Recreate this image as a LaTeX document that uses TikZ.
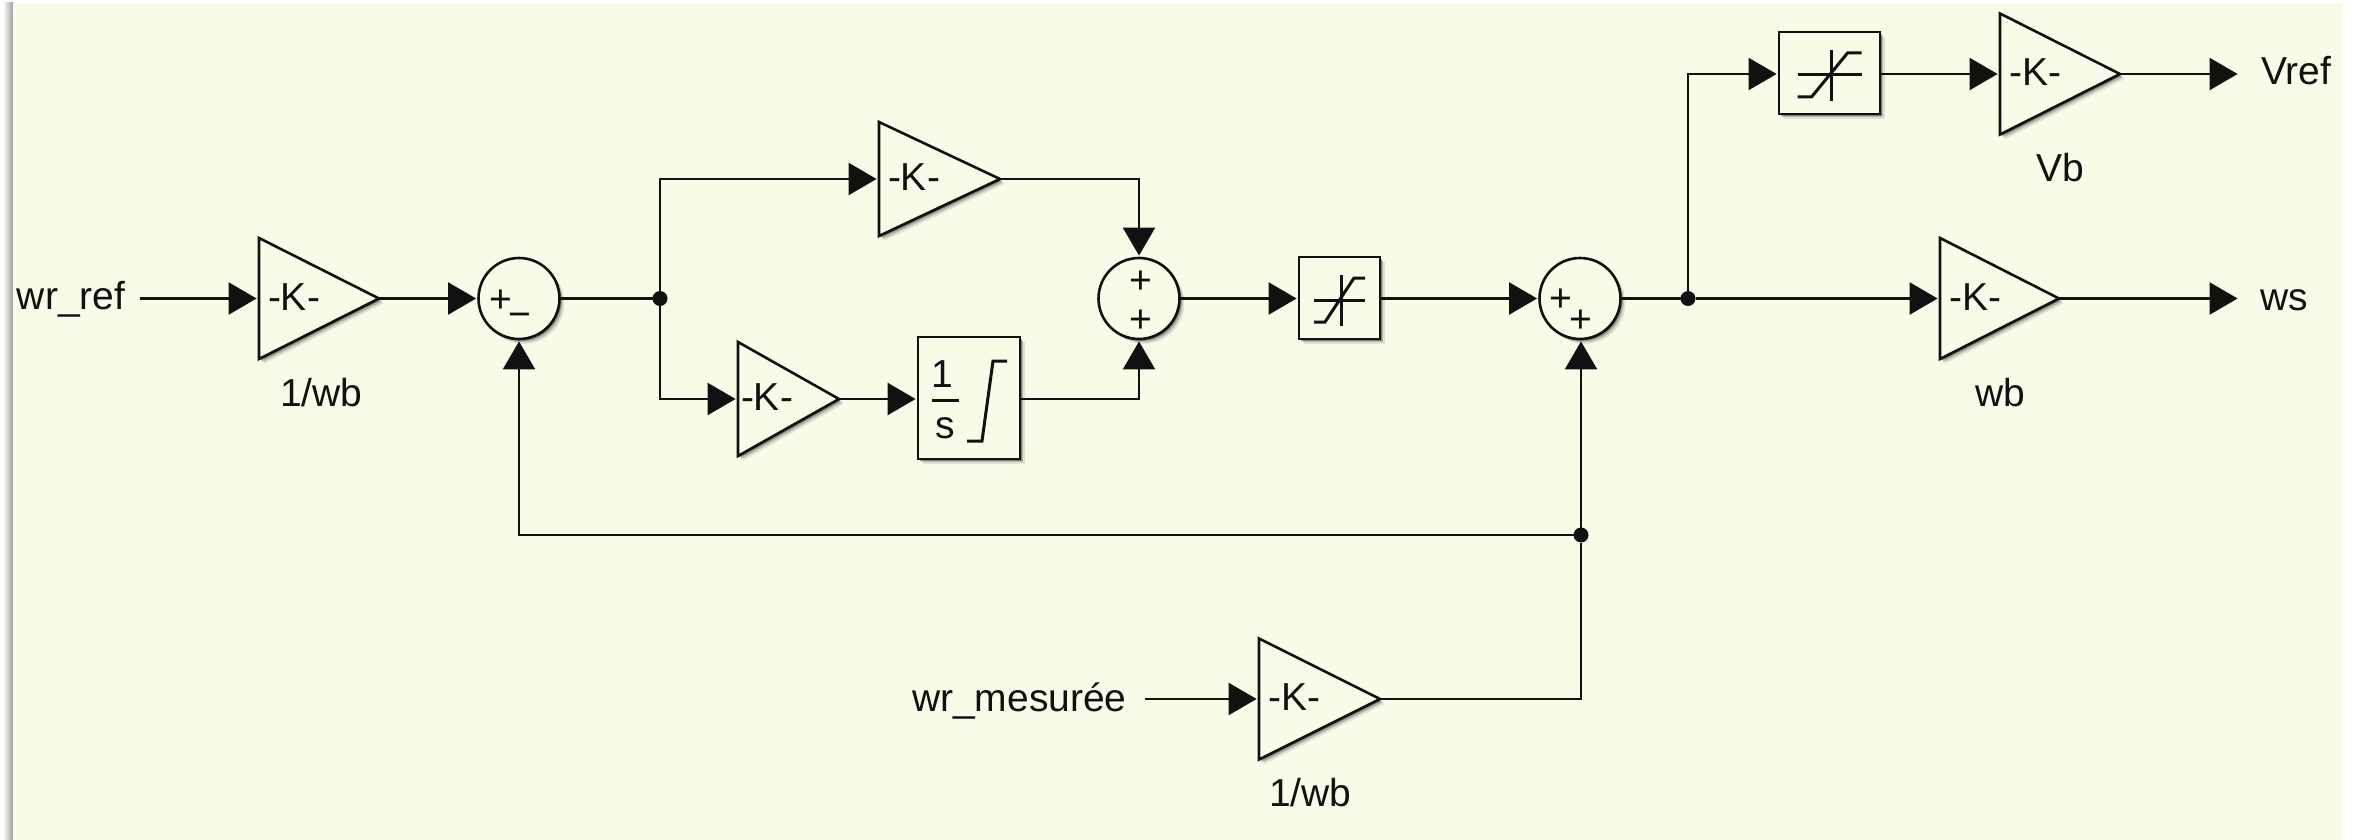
\documentclass[tikz,border=0pt]{standalone}
\usepackage{fontspec}
\setmainfont{Liberation Sans}
\usetikzlibrary{arrows.meta,shapes.geometric,shadows}
\definecolor{paper}{HTML}{F9FAE8}
\definecolor{ink}{HTML}{111111}
\tikzset{
  softshadow/.style={
    general shadow={shadow xshift=2.4pt,shadow yshift=-2.4pt,fill=black,opacity=.10},
    general shadow={shadow xshift=1.6pt,shadow yshift=-1.6pt,fill=black,opacity=.18},
    general shadow={shadow xshift=.9pt,shadow yshift=-.9pt,fill=black,opacity=.30}},
  gainbox/.style={draw=ink,fill=paper,line width=1.3pt,softshadow,outer sep=0pt,inner sep=0pt,
    shape=isosceles triangle,isosceles triangle stretches,shape border rotate=0},
  sumbox/.style={draw=ink,fill=paper,line width=1.3pt,softshadow,circle,outer sep=0pt,inner sep=0pt,minimum size=40.5pt},
  squarebox/.style={draw=ink,fill=paper,line width=1.3pt,softshadow,rectangle,outer sep=0pt,inner sep=0pt},
  txt/.style={font=\fontsize{19.5}{22}\selectfont,text=ink,inner sep=0pt,outer sep=0pt},
  lbl/.style={txt,anchor=base west},
  joint/.style={circle,fill=ink,inner sep=0pt,minimum size=7.5pt,outer sep=0pt},
  wire/.style={draw=ink,line width=1.1pt},
  arrowwire/.style={wire,-{Triangle[length=14pt,width=16pt]},shorten >=1.2pt},
  glyph/.style={draw=ink,line width=1.5pt}
}
\newcommand{\gainblock}[6]{%
  \node[gainbox,minimum height=#4*0.5pt,minimum width=#5*0.5pt,anchor=lower side] (#1) at (#2,#3) {};
  \node[lbl] (#1k) at ([xshift=#6*0.5pt,yshift=-5.75pt]#1.lower side) {-K-};}
\newcommand{\satglyph}[3]{%
  \begin{scope}[shift={(#1.center)}]
    \draw[glyph] (-#2,2) -- (#2,2);
    \draw[glyph] (2,-23) -- (2,28);
    \draw[glyph] (-#2,24) -- (-#2+#3,24) -- (#2-#3,-20) -- (#2,-20);
  \end{scope}}
\begin{document}
\begin{tikzpicture}[x=0.5pt,y=-0.5pt]
\useasboundingbox (0,0) rectangle (2361,840);
\fill[white] (0,0) rectangle (2361,840);
\shade[left color=white,right color=black!38,shading angle=90,draw=none] (3,3) rectangle (13,840);
\fill[paper] (13,3) rectangle (2343,840);

% gains
\gainblock{gainA}{259}{298.5}{120}{121}{9}
\gainblock{gainP}{879}{179}{121}{114}{9}
\gainblock{gainI}{738}{399}{101}{114}{3}
\gainblock{gainV}{2000}{74}{120}{121}{9}
\gainblock{gainW}{1940}{298.5}{119}{121}{9}
\gainblock{gainM}{1259}{699}{121}{121}{9}

% sums
\node[sumbox] (sumA) at (519,298.5) {};
\node[txt] (sumAp) at (501,301) {+};
\node[txt] (sumAm) at (520,320) {−};
\node[sumbox] (sumB) at (1139,298.5) {};
\node[txt] (sumBp) at (1141,282) {+};
\node[txt] (sumBq) at (1141,321) {+};
\node[sumbox] (sumC) at (1580,298.5) {};
\node[txt] (sumCp) at (1561,300) {+};
\node[txt] (sumCq) at (1581,321) {+};

% integrator
\node[squarebox,minimum width=51pt,minimum height=61pt] (integ) at (969,398) {};
\node[txt,anchor=base] (integone) at (942,387) {1};
\node[txt,anchor=base] (integs) at (945,438) {s};
\draw[glyph] (932,400) -- (959,400);
\draw[glyph] (967,441) -- (982,441) -- (993,361) -- (1007,361);

% saturations
\node[squarebox,minimum width=40.5pt,minimum height=41pt] (satA) at (1339.5,298) {};
\satglyph{satA}{25.5}{11}
\node[squarebox,minimum width=50.5pt,minimum height=41pt] (satB) at (1829.5,73) {};
\satglyph{satB}{32}{14}

% labels
\node[lbl] (inA) at (17,309) {wr\_ref};
\node[lbl] (inM) at (912,711) {wr\_mesurée};
\node[lbl] (lblA) at (280,406) {1/wb};
\node[lbl] (lblM) at (1269,806) {1/wb};
\node[lbl] (lblV) at (2036,181) {Vb};
\node[lbl] (lblW) at (1975,406) {wb};
\node[lbl] (outV) at (2261,85) {Vref};
\node[lbl] (outW) at (2260,310) {ws};

% junctions and free ends
\node[joint] (jA) at (660,298.5) {};
\node[joint] (jC) at (1688,298.5) {};
\node[joint] (jF) at (1581,535) {};
\coordinate (startA) at (140,298.5);
\coordinate (startM) at (1145,699);
\coordinate (endV) at (2240,74);
\coordinate (endW) at (2240,298.5);

% connectors
\draw[arrowwire] (startA) -- (gainA.lower side);
\draw[arrowwire] (gainA.apex) -- (sumA.west);
\draw[wire] (sumA.east) -- (jA);
\draw[arrowwire] (jA) |- (gainP.lower side);
\draw[arrowwire] (jA) |- (gainI.lower side);
\draw[arrowwire] (gainP.apex) -| (sumB.north);
\draw[arrowwire] (gainI.apex) -- (integ.west |- gainI.apex);
\draw[arrowwire] (integ.east |- gainI.apex) -| (sumB.south);
\draw[arrowwire] (sumB.east) -- (satA.west |- sumB.east);
\draw[arrowwire] (satA.east |- sumB.east) -- (sumC.west);
\draw[wire] (sumC.east) -- (jC);
\draw[arrowwire] (jC) |- (satB.west |- gainV.lower side);
\draw[arrowwire] (satB.east |- gainV.lower side) -- (gainV.lower side);
\draw[arrowwire] (gainV.apex) -- (endV);
\draw[arrowwire] (jC) -- (gainW.lower side);
\draw[arrowwire] (gainW.apex) -- (endW);
\draw[arrowwire] (startM) -- (gainM.lower side);
\draw[wire] (gainM.apex) -| (jF);
\draw[arrowwire] (jF) -- (jF |- sumC.south);
\draw[arrowwire] (jF) -| (sumA.south);
\end{tikzpicture}
\end{document}
